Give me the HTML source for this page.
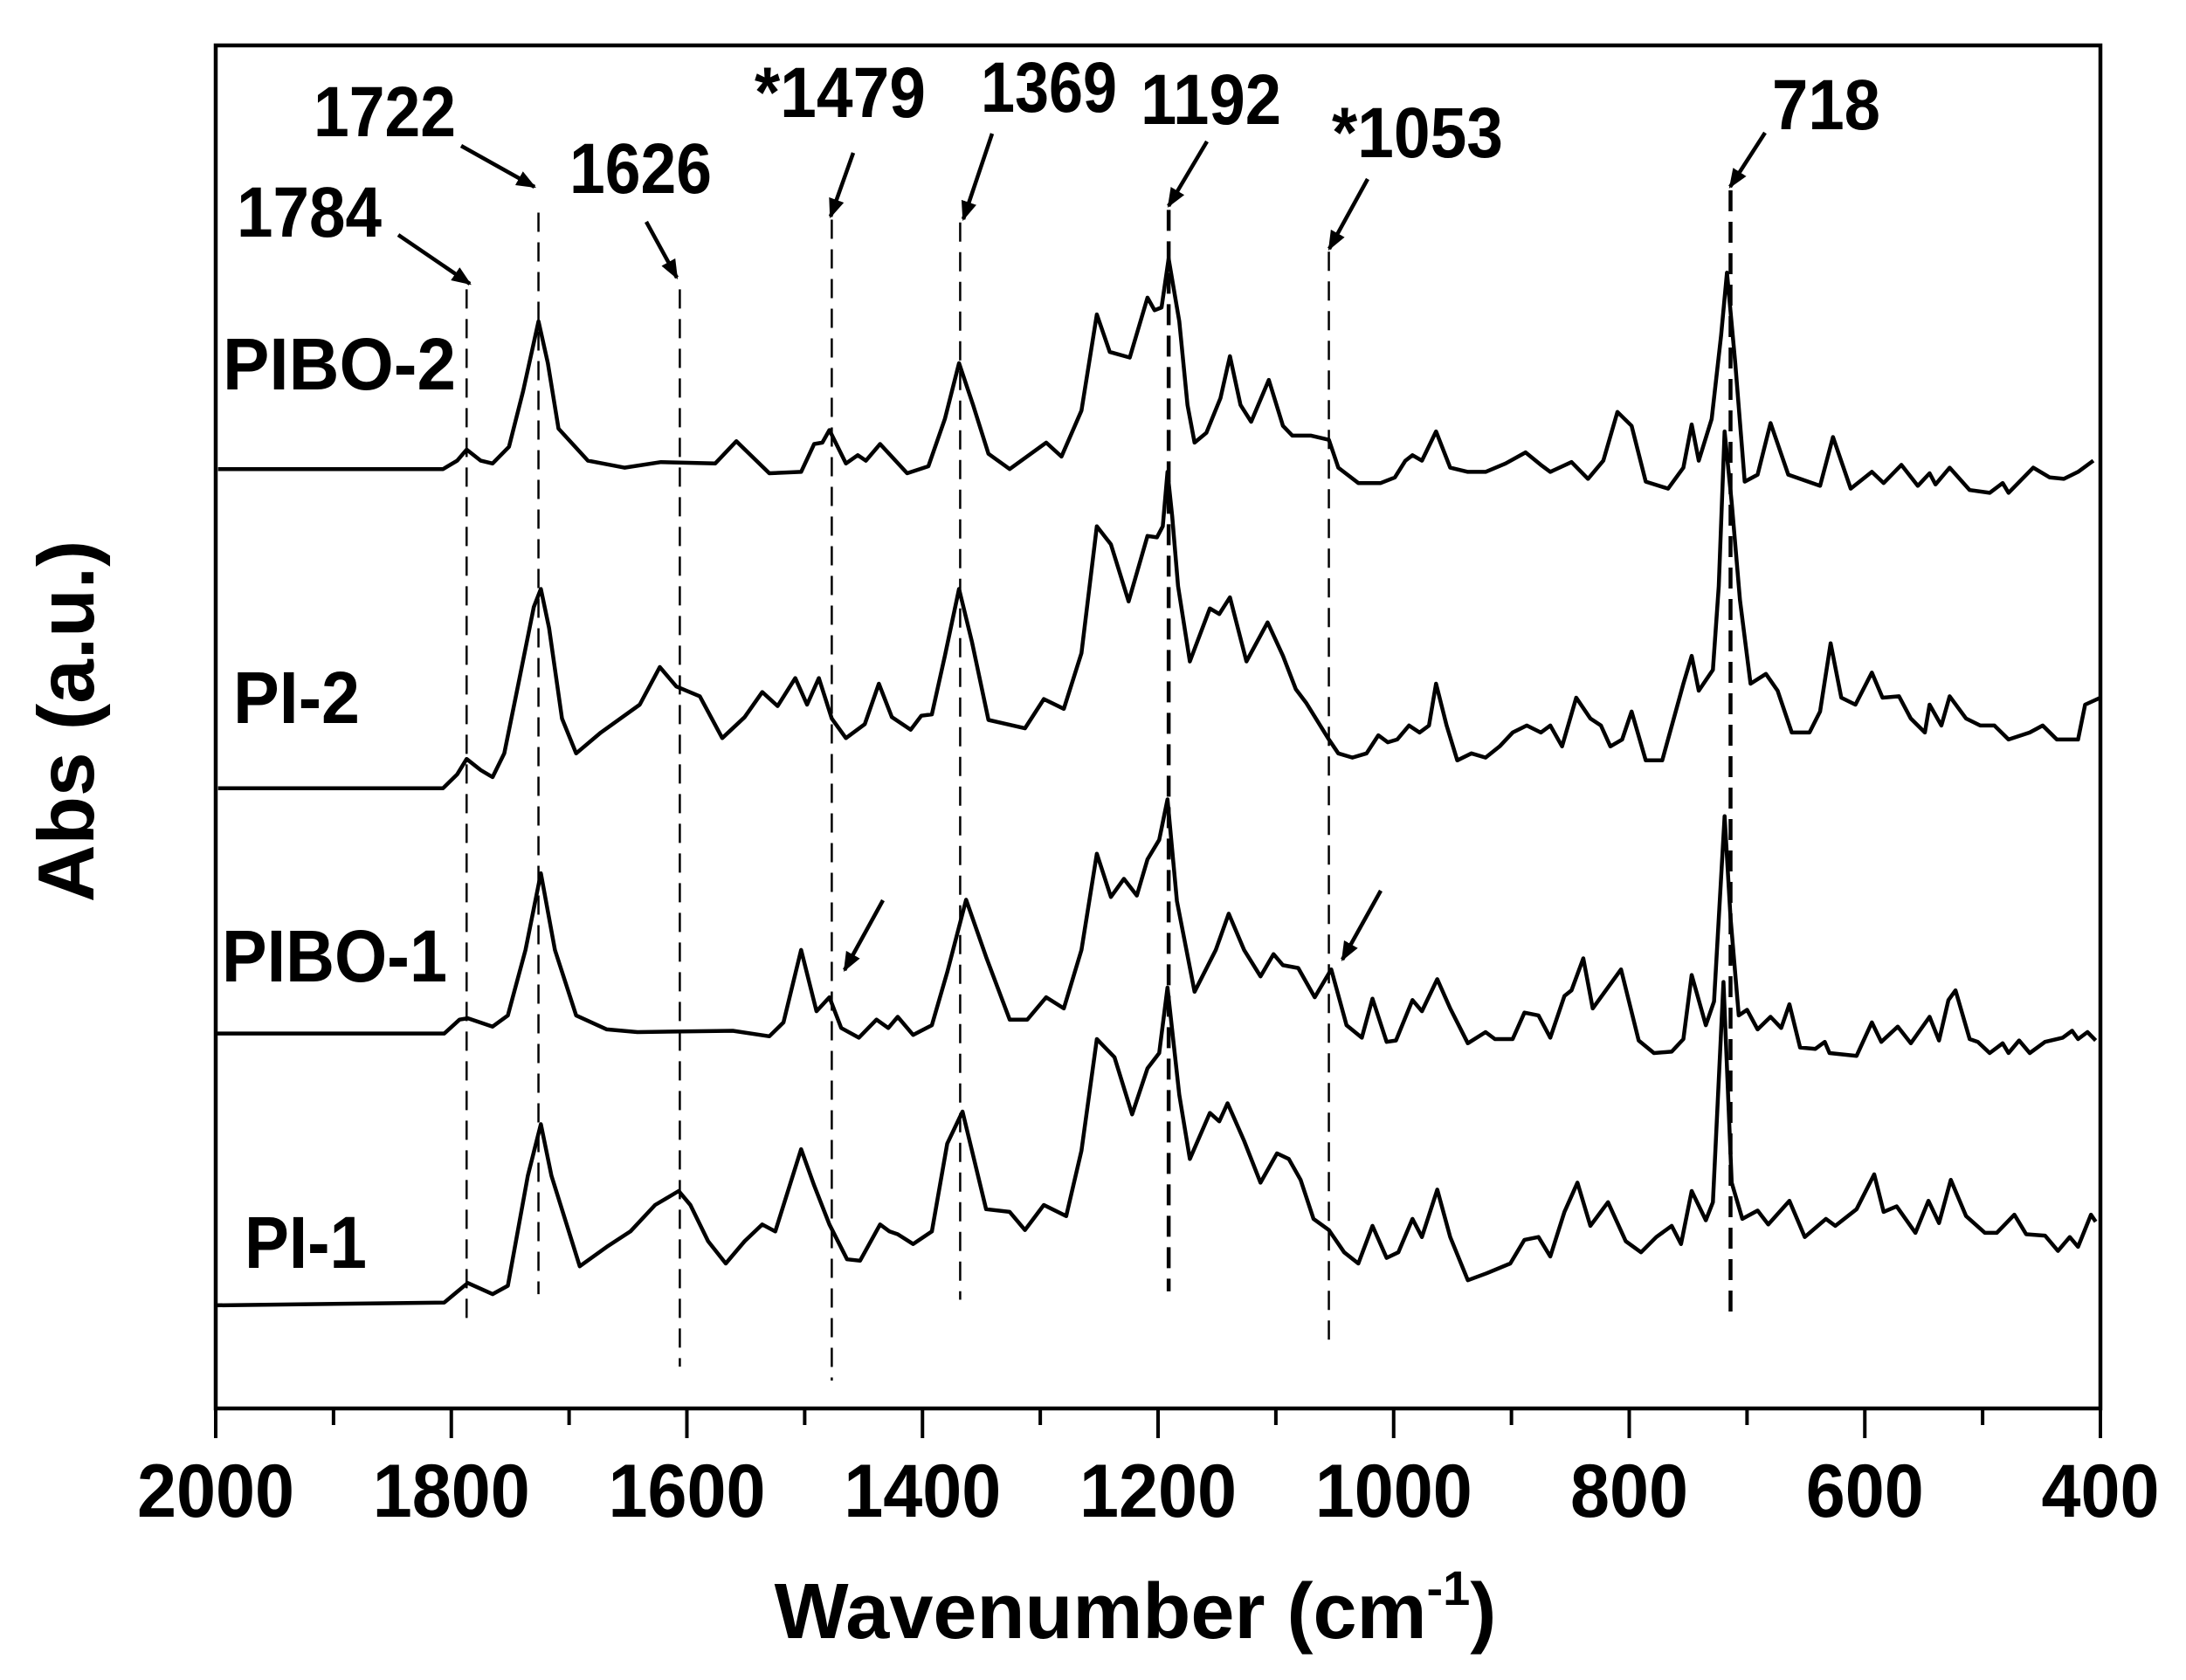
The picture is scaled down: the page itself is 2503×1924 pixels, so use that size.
<!DOCTYPE html>
<html><head><meta charset="utf-8"><title>FTIR spectra</title>
<style>html,body{margin:0;padding:0;background:#fff}svg{display:block}</style></head>
<body>
<svg id="chart" xmlns="http://www.w3.org/2000/svg" width="2503" height="1924" viewBox="0 0 2503 1924" font-family="Liberation Sans, Arial, sans-serif" font-weight="bold">
<defs><marker id="ah" viewBox="0 0 10 10" refX="9" refY="5" markerWidth="5" markerHeight="5" orient="auto" markerUnits="strokeWidth"><path d="M0,1 L10,5 L0,9 z" fill="#000"/></marker></defs>
<rect x="0" y="0" width="2503" height="1924" fill="#fff"/>
<g id="dashes"></g>
<g id="series"></g>
<rect x="247" y="52" width="2158" height="1561" fill="none" stroke="#000" stroke-width="4.5"/>
<g id="xaxis"></g>
<text x="1300" y="1876" font-size="90" text-anchor="middle">Wavenumber (cm<tspan dy="-38" font-size="56">-1</tspan><tspan dy="38">)</tspan></text>
<text transform="translate(107,826) rotate(-90)" font-size="91" text-anchor="middle">Abs (a.u.)</text>
<g font-size="84">
<text x="255" y="446" textLength="267" lengthAdjust="spacingAndGlyphs">PIBO-2</text>
<text x="267" y="828" textLength="145" lengthAdjust="spacingAndGlyphs">PI-2</text>
<text x="254" y="1124" textLength="258" lengthAdjust="spacingAndGlyphs">PIBO-1</text>
<text x="280" y="1452" textLength="140" lengthAdjust="spacingAndGlyphs">PI-1</text>
</g>
<g font-size="82">
<text x="271" y="271" textLength="166" lengthAdjust="spacingAndGlyphs">1784</text>
<text x="359" y="156" textLength="163" lengthAdjust="spacingAndGlyphs">1722</text>
<text x="652" y="221" textLength="163" lengthAdjust="spacingAndGlyphs">1626</text>
<text x="864" y="134" textLength="196" lengthAdjust="spacingAndGlyphs">*1479</text>
<text x="1123" y="128" textLength="156" lengthAdjust="spacingAndGlyphs">1369</text>
<text x="1306" y="142" textLength="161" lengthAdjust="spacingAndGlyphs">1192</text>
<text x="1525" y="180" textLength="196" lengthAdjust="spacingAndGlyphs">*1053</text>
<text x="2029" y="148" textLength="124" lengthAdjust="spacingAndGlyphs">718</text>
</g>
<g stroke="#000" stroke-width="4.5" marker-end="url(#ah)">
<line x1="456" y1="269" x2="538" y2="325"/>
<line x1="528" y1="167" x2="612" y2="214"/>
<line x1="740" y1="254" x2="775" y2="318"/>
<line x1="977" y1="175" x2="951" y2="248"/>
<line x1="1136" y1="153" x2="1103" y2="251"/>
<line x1="1382" y1="162" x2="1338" y2="236"/>
<line x1="1566" y1="205" x2="1522" y2="285"/>
<line x1="2021" y1="152" x2="1981" y2="214"/>
<line x1="1011" y1="1031" x2="967" y2="1111"/>
<line x1="1581" y1="1020" x2="1537" y2="1099"/>
</g>
</svg>
<script>
const majorTicks = [2000,1800,1600,1400,1200,1000,800,600,400];
const minorTicks = [1900,1700,1500,1300,1100,900,700,500];
const guideWave = [1787,1726,1606,1477,1368,1191,1055,714];
const guideTop = [803,858,803,853,851,860,830,874];
const guideBottom = [61,82,30,20,78,84,45,63];
const guideBold = [0,0,0,0,0,1,0,1];
const pibo2 = [[1998,674],[1807,674],[1795,680],[1787,688],[1775,680],[1765,678],[1751,690],[1739,730],[1726,780],[1718,750],[1709,703],[1684,680],[1653,675],[1622,679],[1576,678],[1558,694],[1530,671],[1503,672],[1492,692],[1485,693],[1479,702],[1465,678],[1455,684],[1448,680],[1436,692],[1413,671],[1395,676],[1381,710],[1369,750],[1357,720],[1344,685],[1326,674],[1295,693],[1282,683],[1265,716],[1252,785],[1241,758],[1224,754],[1209,797],[1203,788],[1197,790],[1191,825],[1182,780],[1175,720],[1169,693],[1159,700],[1147,725],[1139,755],[1130,720],[1121,708],[1106,738],[1094,705],[1086,698],[1070,698],[1055,695],[1047,675],[1030,664],[1011,664],[999,668],[990,680],[984,684],[976,680],[964,701],[952,675],[937,672],[922,672],[905,678],[888,686],[875,677],[867,672],[849,679],[835,667],[822,680],[810,715],[798,705],[786,665],[767,660],[754,675],[747,706],[741,680],[730,710],[722,770],[717,815],[710,750],[702,665],[691,670],[680,707],[665,670],[638,662],[627,697],[612,660],[594,672],[584,664],[569,677],[555,662],[545,671],[540,663],[528,675],[511,659],[494,657],[483,664],[478,657],[457,675],[443,668],[431,667],[419,672],[406,680]];
const pi2 = [[1998,445],[1807,445],[1795,455],[1787,466],[1775,458],[1765,453],[1755,470],[1743,520],[1730,575],[1724,588],[1717,560],[1706,495],[1694,470],[1673,485],[1640,505],[1623,532],[1609,518],[1589,511],[1570,481],[1551,496],[1536,514],[1523,504],[1508,524],[1498,505],[1488,524],[1477,495],[1465,481],[1449,491],[1437,520],[1426,496],[1410,487],[1401,497],[1392,498],[1381,540],[1369,588],[1358,550],[1344,494],[1313,488],[1297,509],[1280,502],[1265,542],[1252,633],[1240,620],[1225,579],[1209,626],[1201,625],[1196,633],[1192,672],[1188,640],[1183,590],[1173,536],[1156,574],[1148,570],[1139,582],[1125,536],[1107,564],[1094,540],[1083,516],[1074,506],[1055,480],[1047,470],[1035,467],[1023,470],[1013,483],[1005,478],[997,480],[987,490],[978,485],[970,490],[964,520],[955,490],[946,465],[934,470],[922,467],[910,475],[899,485],[887,490],[875,485],[867,490],[857,475],[845,510],[833,495],[824,490],[816,475],[806,480],[798,500],[786,465],[772,465],[754,520],[747,540],[741,515],[729,530],[724,590],[719,701],[713,650],[706,580],[697,520],[684,527],[674,515],[662,485],[647,485],[638,500],[629,549],[620,510],[608,505],[594,528],[585,510],[571,511],[561,495],[549,485],[545,505],[535,490],[528,511],[514,495],[502,490],[490,490],[478,480],[460,485],[449,490],[437,480],[419,480],[413,505],[400,510]];
const pibo1 = [[2000,269],[1806,269],[1793,279],[1786,280],[1765,274],[1752,282],[1737,329],[1724,384],[1712,329],[1694,282],[1668,272],[1642,270],[1561,271],[1530,267],[1518,277],[1503,329],[1490,285],[1479,295],[1469,273],[1454,266],[1439,279],[1429,273],[1421,281],[1408,268],[1392,275],[1379,313],[1363,365],[1346,324],[1326,279],[1311,279],[1295,295],[1280,287],[1265,329],[1252,398],[1240,367],[1229,380],[1218,368],[1209,394],[1199,408],[1192,437],[1184,364],[1169,299],[1151,329],[1140,355],[1127,329],[1113,310],[1102,326],[1094,318],[1081,316],[1067,295],[1053,315],[1040,275],[1027,266],[1018,294],[1006,263],[998,264],[984,293],[976,285],[963,308],[952,287],[937,262],[922,270],[914,265],[899,265],[889,284],[877,282],[867,266],[855,296],[849,300],[839,323],[831,287],[807,315],[792,264],[779,255],[764,256],[754,265],[747,311],[735,275],[728,292],[719,425],[714,352],[707,282],[700,286],[691,272],[680,281],[671,273],[664,290],[655,259],[642,258],[634,263],[630,255],[607,253],[594,277],[586,263],[572,274],[561,262],[545,281],[537,264],[529,293],[523,300],[511,265],[504,263],[494,255],[483,262],[478,255],[469,264],[460,255],[447,263],[432,266],[424,271],[419,265],[411,270],[404,264]];
const pi1 = [[2000,74],[1806,76],[1796,83],[1786,90],[1765,82],[1752,88],[1735,167],[1724,204],[1715,167],[1691,102],[1668,116],[1648,127],[1627,146],[1607,156],[1597,146],[1582,120],[1567,104],[1551,120],[1536,132],[1525,127],[1503,186],[1492,160],[1479,132],[1464,107],[1453,106],[1436,132],[1428,127],[1421,125],[1408,118],[1392,127],[1379,190],[1366,213],[1346,143],[1326,141],[1313,128],[1297,146],[1278,138],[1265,185],[1252,265],[1237,252],[1222,211],[1209,244],[1199,255],[1192,302],[1182,225],[1173,179],[1156,212],[1148,206],[1141,219],[1127,192],[1113,162],[1099,183],[1089,179],[1079,164],[1068,136],[1055,128],[1042,112],[1030,104],[1018,131],[1006,108],[996,112],[984,136],[976,123],[963,157],[952,123],[937,92],[921,97],[901,104],[889,121],[877,123],[867,109],[855,141],[844,162],[833,131],[818,148],[803,120],[790,112],[777,123],[764,131],[756,118],[747,156],[735,135],[729,148],[720,306],[713,162],[704,136],[691,142],[682,132],[664,149],[651,123],[633,136],[625,131],[607,143],[592,168],[584,141],[573,145],[557,126],[546,149],[537,133],[527,164],[514,138],[498,126],[488,126],[473,139],[463,125],[447,124],[436,113],[426,123],[419,116],[408,139],[404,134]];

const PL=247, PR=2405, PT=52, PB=1613;
const X_MAX=2000, X_MIN=400, Y_MIN=0, Y_MAX=978;
function xs(w){ return PL + (X_MAX - w)/(X_MAX - X_MIN)*(PR-PL); }
function ys(v){ return PB - (v - Y_MIN)/(Y_MAX - Y_MIN)*(PB-PT); }
const NS='http://www.w3.org/2000/svg';

const sg = document.getElementById('series');
const allSeries = [['spectrum-pibo-2',pibo2],['spectrum-pi-2',pi2],['spectrum-pibo-1',pibo1],['spectrum-pi-1',pi1]];
allSeries.forEach(function(s){
  const p = document.createElementNS(NS,'path');
  p.setAttribute('d', s[1].map(function(pt,i){ return (i?'L':'M') + xs(pt[0]).toFixed(1) + ',' + ys(pt[1]).toFixed(1); }).join(' '));
  p.setAttribute('fill','none'); p.setAttribute('stroke','#000'); p.setAttribute('stroke-width','4.5'); p.setAttribute('stroke-linejoin','round');
  
  
  sg.appendChild(p);
});

const dg = document.getElementById('dashes');
guideWave.forEach(function(w,i){
  const l = document.createElementNS(NS,'line');
  l.setAttribute('x1', xs(w)); l.setAttribute('x2', xs(w));
  l.setAttribute('y1', ys(guideTop[i])); l.setAttribute('y2', ys(guideBottom[i]));
  l.setAttribute('stroke','#000');
  l.setAttribute('stroke-width', guideBold[i] ? '4.5' : '2.5');
  l.setAttribute('stroke-dasharray', guideBold[i] ? '24 12' : '22 12');
  
  
  dg.appendChild(l);
});

const xg = document.getElementById('xaxis');
majorTicks.forEach(function(t){
  const l = document.createElementNS(NS,'line');
  l.setAttribute('x1', xs(t)); l.setAttribute('x2', xs(t)); l.setAttribute('y1', PB); l.setAttribute('y2', PB+34);
  l.setAttribute('stroke','#000'); l.setAttribute('stroke-width','4');
  
  
  xg.appendChild(l);
  const label = String(t);
  const tx = document.createElementNS(NS,'text');
  tx.setAttribute('x', xs(t)); tx.setAttribute('y', 1737); tx.setAttribute('font-size','86'); tx.setAttribute('text-anchor','middle');
  tx.setAttribute('textLength', String(45*label.length)); tx.setAttribute('lengthAdjust','spacingAndGlyphs');
  tx.textContent = label;
  
  
  xg.appendChild(tx);
});
minorTicks.forEach(function(t){
  const l = document.createElementNS(NS,'line');
  l.setAttribute('x1', xs(t)); l.setAttribute('x2', xs(t)); l.setAttribute('y1', PB); l.setAttribute('y2', PB+19);
  l.setAttribute('stroke','#000'); l.setAttribute('stroke-width','4');
  
  
  xg.appendChild(l);
});
</script>
</body></html>
